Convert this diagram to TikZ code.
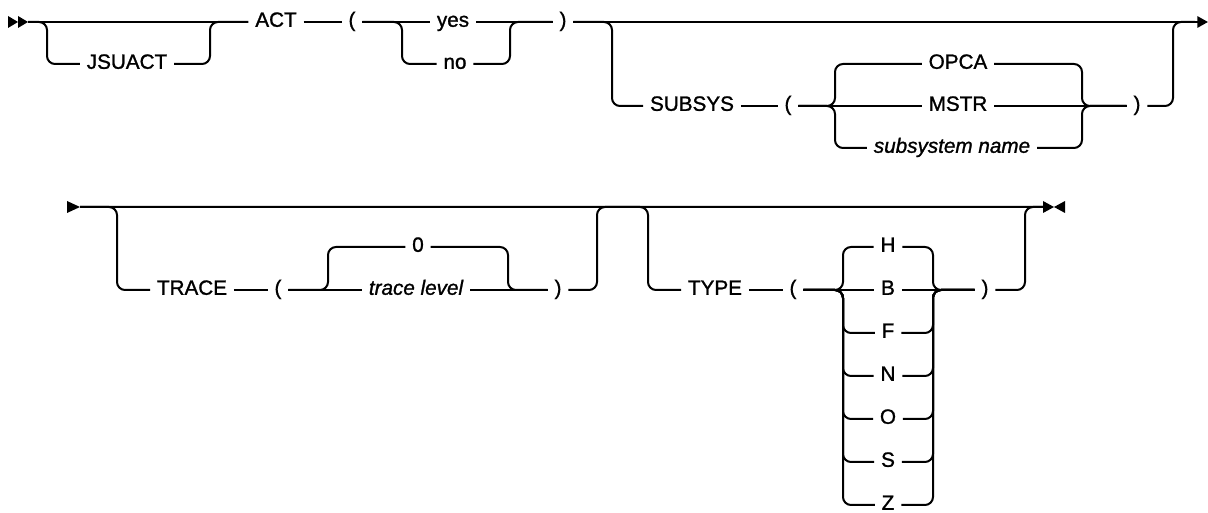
\documentclass[tikz,border=0pt]{standalone}
\usepackage{fontspec}
\setmainfont{Liberation Sans}[FakeBold=1.2]
\usetikzlibrary{positioning,arrows.meta,calc}

\begin{document}
\begin{tikzpicture}[
    x=0.75pt, y=-0.75pt,
    kw/.style={inner xsep=5pt, inner ysep=0pt, text height=0.72em, text depth=0pt, font=\fontsize{15.5}{18}\selectfont},
    var/.style={kw, font=\fontsize{15.5}{18}\selectfont\itshape},
    rail/.style={line width=1.5pt, rounded corners=6pt},
    endarrow/.style={line width=1.5pt, -{Triangle[length=8pt,width=8.5pt]}}
]
    \useasboundingbox (0,0) rectangle (1208,513);

    % first line
    \coordinate (start01) at (28,22);
    \coordinate (end01) at (1208,22);
    \fill (8,16) -- (18,22) -- (8,28) -- cycle;
    \fill (18,16) -- (28,22) -- (18,28) -- cycle;

    \node[kw] (jsuact01) at (127,64) {JSUACT};
    \node[kw] (act01) at (276,22) {ACT};
    \node[kw] (lpar01) at (352,22) {(};
    \node[kw] (yes01) at (453,22) {yes};
    \node[kw] (no01) at (455,64) {no};
    \node[kw] (rpar01) at (563,22) {)};
    \node[kw] (subsys01) at (692,106) {SUBSYS};
    \node[kw] (lpar02) at (788,106) {(};
    \node[kw] (opca01) at (958,64) {OPCA};
    \node[kw] (mstr01) at (958,106) {MSTR};
    \node[var] (subname01) at (952,148) {subsystem name};
    \node[kw] (rpar02) at (1137,106) {)};

    \coordinate (jsL) at (47,64);
    \coordinate (jsR) at (210,22);
    \coordinate (ynL) at (402,64);
    \coordinate (ynR) at (510,22);
    \coordinate (sbL) at (612,106);
    \coordinate (sbR) at (1173,22);
    \coordinate (sbE) at (1195,22);
    \coordinate (ssL) at (835,106);
    \coordinate (ssR) at (1082,106);

    \draw[rail] (start01) -- (act01.west);
    \draw[rail] (start01) -| (jsL) -- (jsuact01.west);
    \draw[rail] (jsuact01.east) -| (jsR) -- (act01.west);
    \draw[rail] (act01.east) -- (lpar01.west);
    \draw[rail] (lpar01.east) -- (yes01.west);
    \draw[rail] (lpar01.east) -| (ynL) -- (no01.west);
    \draw[rail] (yes01.east) -- (rpar01.west);
    \draw[rail] (no01.east) -| (ynR) -- (rpar01.west);
    \draw[endarrow] (rpar01.east) -- (end01);
    \draw[rail] (rpar01.east) -| (sbL) -- (subsys01.west);
    \draw[rail] (subsys01.east) -- (lpar02.west);
    \draw[rail] (lpar02.east) -- (mstr01.west);
    \draw[rail] (lpar02.east) -| (ssL |- opca01) -- (opca01.west);
    \draw[rail] (lpar02.east) -| (ssL |- subname01) -- (subname01.west);
    \draw[rail] (mstr01.east) -- (rpar02.west);
    \draw[rail] (opca01.east) -| (ssR) -- (rpar02.west);
    \draw[rail] (subname01.east) -| (ssR) -- (rpar02.west);
    \draw[rail] (rpar02.east) -| (sbR) -- (sbE);

    % second line
    \coordinate (start02) at (80,207);
    \coordinate (end02) at (1043,207);
    \fill (67,201) -- (80,207) -- (67,213) -- cycle;
    \fill (1043,201) -- (1054,207) -- (1043,213) -- cycle;
    \fill (1065,201) -- (1054,207) -- (1065,213) -- cycle;

    \node[kw] (trace01) at (192,290) {TRACE};
    \node[kw] (lpar03) at (278,290) {(};
    \node[kw] (zero01) at (418,247) {0};
    \node[var] (tlevel01) at (416,290) {trace level};
    \node[kw] (rpar03) at (558,290) {)};
    \node[kw] (type01) at (715,290) {TYPE};
    \node[kw] (lpar04) at (793,290) {(};
    \node[kw] (h01) at (888,247) {H};
    \node[kw] (b01) at (888,290) {B};
    \foreach \t/\yy in {F/333, N/376, O/419, S/462, Z/505}
        \node[kw] (\t01) at (888,\yy) {\t};
    \node[kw] (rpar04) at (985,290) {)};

    \coordinate (trL) at (117,290);
    \coordinate (tlL) at (328,290);
    \coordinate (tlR) at (508,290);
    \coordinate (trR) at (597,207);
    \coordinate (tyA) at (648,290);
    \coordinate (tyL) at (843,290);
    \coordinate (tyR) at (933,290);
    \coordinate (tpR) at (1025,207);

    \draw[rail] (start02) -- (end02);
    \draw[rail] (start02) -| (trL) -- (trace01.west);
    \draw[rail] (trace01.east) -- (lpar03.west);
    \draw[rail] (lpar03.east) -- (tlevel01.west);
    \draw[rail] (lpar03.east) -| (tlL |- zero01) -- (zero01.west);
    \draw[rail] (tlevel01.east) -- (rpar03.west);
    \draw[rail] (zero01.east) -| (tlR) -- (rpar03.west);
    \draw[rail] (rpar03.east) -| (trR) -- (end02);
    \draw[rail] (start02) -| (tyA) -- (type01.west);
    \draw[rail] (type01.east) -- (lpar04.west);
    \draw[rail] (lpar04.east) -- (b01.west);
    \draw[rail] (b01.east) -- (rpar04.west);
    \draw[rail] (lpar04.east) -| (tyL |- h01) -- (h01.west);
    \draw[rail] (h01.east) -| (tyR) -- (rpar04.west);
    \foreach \t in {F,N,O,S,Z} {
        \draw[rail] (lpar04.east) -| (tyL |- \t01) -- (\t01.west);
        \draw[rail] (\t01.east) -| (tyR) -- (rpar04.west);
    }
    \draw[rail] (rpar04.east) -| (tpR) -- (end02);
\end{tikzpicture}
\end{document}
